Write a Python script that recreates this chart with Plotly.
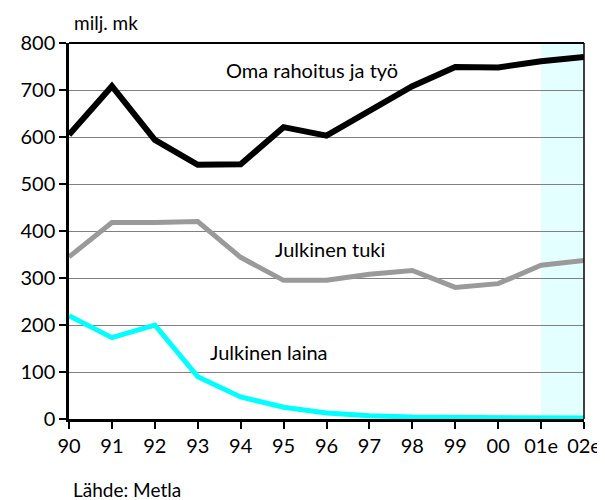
import plotly.graph_objects as go

years = ["90", "91", "92", "93", "94", "95", "96", "97", "98", "99", "00", "01e", "02e"]
oma = [605, 708, 594, 541, 542, 621, 603, 655, 708, 749, 748, 761, 770]
tuki = [345, 418, 418, 420, 344, 295, 295, 308, 316, 280, 288, 327, 337]
laina = [220, 173, 200, 90, 47, 25, 13, 7, 4, 3, 2, 2, 2]

FONT = "Lato"

fig = go.Figure()

# estimate years shading
fig.add_shape(type="rect", xref="x", yref="y", x0="01e", x1="02e", y0=0, y1=800,
              fillcolor="#e3ffff", line_width=0, layer="below")

fig.add_trace(go.Scatter(x=years, y=oma, mode="lines", line=dict(color="black", width=6)))
fig.add_trace(go.Scatter(x=years, y=tuki, mode="lines", line=dict(color="#9a9a9a", width=5)))
fig.add_trace(go.Scatter(x=years, y=laina, mode="lines", line=dict(color="#00ffff", width=5)))

labels = [("Oma rahoitus ja työ", 0.472, 742),
          ("Julkinen tuki", 0.507, 361),
          ("Julkinen laina", 0.388, 143)]
for text, xp, yv in labels:
    fig.add_annotation(text=text, xref="paper", yref="y", x=xp, y=yv, showarrow=False,
                       font=dict(family=FONT, size=20, color="black"))

fig.add_annotation(text="milj. mk", xref="paper", yref="paper", x=0.006, y=1.0, yshift=21,
                   xanchor="left", yanchor="middle", showarrow=False,
                   font=dict(family=FONT, size=19, color="black"))
fig.add_annotation(text="Lähde: Metla", xref="paper", yref="paper", x=0.003, y=0, yshift=-70,
                   xanchor="left", yanchor="middle", showarrow=False,
                   font=dict(family=FONT, size=19, color="black"))

fig.update_xaxes(type="category", range=[0, 12], showgrid=False,
                 showline=True, linecolor="black", linewidth=2.5,
                 ticks="outside", ticklen=7, tickwidth=2, tickcolor="black",
                 tickfont=dict(family=FONT, size=20, color="black"), zeroline=False)
fig.update_yaxes(range=[0, 800], dtick=100, showgrid=True, gridcolor="#808080", gridwidth=1,
                 showline=True, linecolor="black", linewidth=2.5,
                 ticks="outside", ticklen=7, tickwidth=2, tickcolor="black",
                 tickfont=dict(family=FONT, size=20, color="black"), zeroline=False)

# top and right frame lines
fig.add_shape(type="line", xref="paper", yref="paper", x0=0, x1=1, y0=1, y1=1,
              line=dict(color="black", width=2))
fig.add_shape(type="line", xref="paper", yref="paper", x0=1, x1=1, y0=0, y1=1,
              line=dict(color="black", width=1.5))

# the page adds an 8px body margin, so the plot is placed 8px up and left
fig.update_layout(
    width=605, height=500,
    margin=dict(l=55, r=27, t=35, b=89),
    showlegend=False,
    paper_bgcolor="white", plot_bgcolor="white",
    font=dict(family=FONT, color="black"),
)

fig.write_html("out.html")
